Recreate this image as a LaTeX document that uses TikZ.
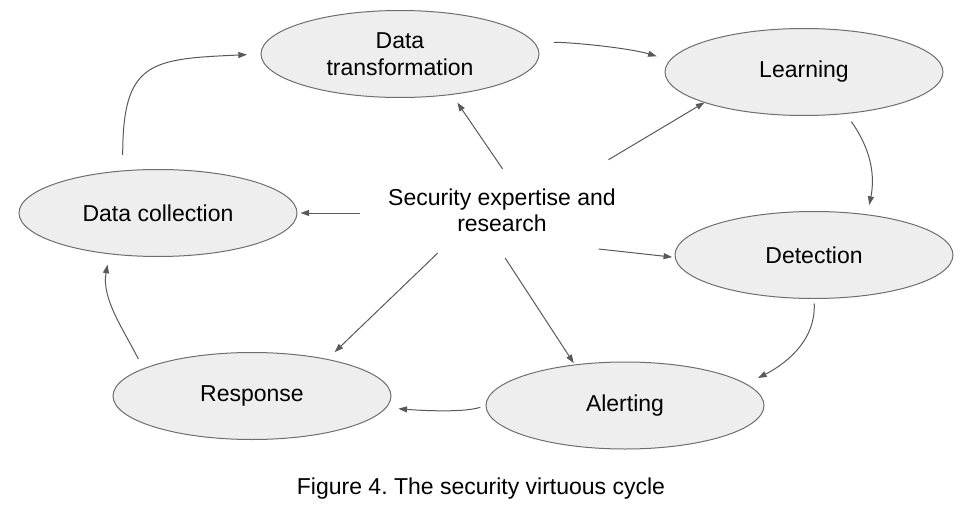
\documentclass[tikz,border=0pt]{standalone}
\usepackage{fontspec}
\setmainfont{Liberation Sans}
\usetikzlibrary{shapes,arrows.meta}
\definecolor{stagefill}{HTML}{EEEEEE}
\definecolor{stageline}{HTML}{6E6E6E}
\definecolor{linkline}{HTML}{595959}
\tikzset{
  stage/.style={ellipse, draw=stageline, fill=stagefill, line width=0.75pt, minimum width=208.5pt, minimum height=65.25pt, inner sep=0pt, outer sep=0pt, align=center, font=\fontsize{17.25}{20.25}\selectfont},
  hub/.style={rectangle, minimum width=213pt, minimum height=58.5pt, inner sep=0pt, outer sep=0pt, align=center, font=\fontsize{17.25}{19.5}\selectfont},
  link/.style={draw=linkline, line width=0.75pt, -{Triangle[length=6.5pt,width=4.5pt]}},
}
\frenchspacing

\begin{document}
\begin{tikzpicture}[x=0.75pt,y=0.75pt,yscale=-1,xscale=1]
    \useasboundingbox (0,0) rectangle (975,510);

    %Shape: Ellipse
    \node[stage] (dt) at (400,54) {Data\\transformation};
    %Shape: Ellipse
    \node[stage] (lr) at (804,72) {Learning};
    %Shape: Ellipse
    \node[stage] (de) at (814,255) {Detection};
    %Shape: Ellipse
    \node[stage] (al) at (625,405.5) {Alerting};
    %Shape: Ellipse
    \node[stage] (rs) at (252,396) {Response};
    %Shape: Ellipse
    \node[stage] (dc) at (158,213) {Data collection};

    % Text Node
    \node[hub] (sec) at (502,210) {Security expertise and\\research};
    % Text Node
    \node[font=\fontsize{17.25}{20}\selectfont, inner sep=0pt] (cap) at (481,489) {Figure 4. The security virtuous cycle};

    %Curve Lines
    \draw[link, shorten <=12pt, shorten >=10.5pt] (dc.130) .. controls +(0,-110) and +(-110,5) .. (dt.west);
    \draw[link, shorten <=15pt, shorten >=10.5pt] (dt.5) .. controls +(40,0) and +(-40,-12) .. (lr.175);
    \draw[link, shorten <=7.5pt, shorten >=7.5pt] (lr.-45) .. controls +(25,35) and +(8,-40) .. (de.37);
    \draw[link, shorten <=3.75pt, shorten >=10pt] (de.south) .. controls +(2,45) and +(35,-18) .. (al.10);
    \draw[link, shorten <=4.5pt, shorten >=9.4pt] (al.west) .. controls +(-25,8) and +(25,2) .. (rs.-5);
    \draw[link, shorten <=8.25pt, shorten >=8.25pt] (rs.166) .. controls +(-20,-40) and +(-8,45) .. (dc.220);

    %Straight Lines
    \draw[link, shorten <=2pt, shorten >=7.5pt] (sec.87) -- (dt.-38);
    \draw[link, shorten <=16.5pt] (sec.24) -- (lr.197);
    \draw[link, shorten >=2.6pt] (sec.west |- dc.east) -- (dc.east);
    \draw[link, shorten >=2.25pt] (sec.-22) -- (de.181);
    \draw[link, shorten <=8pt, shorten >=1.5pt] (sec.-94) -- (al.141);
    \draw[link, shorten <=4.3pt, shorten >=7.9pt] (sec.213) -- (rs.26);

\end{tikzpicture}
\end{document}
